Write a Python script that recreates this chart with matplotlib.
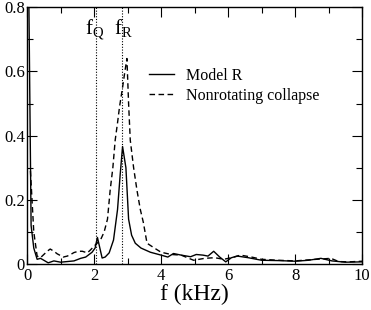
import matplotlib
matplotlib.use("Agg")
import matplotlib.pyplot as plt
from matplotlib.ticker import MultipleLocator

plt.rcParams["font.family"] = ["Liberation Serif", "DejaVu Serif"]
plt.rcParams["mathtext.fontset"] = "custom"
plt.rcParams["mathtext.rm"] = "Liberation Serif"

# Model R spectrum (kHz, amplitude)
f_model = [0.0, 0.05, 0.12, 0.2, 0.3, 0.4, 0.5, 0.63, 0.8, 1.0, 1.2, 1.4, 1.6,
           1.75, 1.94, 2.03, 2.1, 2.24, 2.33, 2.45, 2.58, 2.7, 2.78, 2.85, 2.95,
           3.03, 3.12, 3.23, 3.4, 3.68, 4.0, 4.2, 4.37, 4.6, 4.88, 5.05, 5.25,
           5.4, 5.57, 5.75, 5.93, 6.1, 6.28, 6.6, 7.0, 7.5, 8.0, 8.4, 8.77, 9.1,
           9.5, 10.0]
a_model = [0.9, 0.85, 0.12, 0.05, 0.015, 0.018, 0.012, 0.004, 0.01, 0.006,
           0.008, 0.01, 0.018, 0.022, 0.037, 0.05, 0.083, 0.019, 0.022, 0.035,
           0.075, 0.17, 0.28, 0.366, 0.3, 0.14, 0.09, 0.065, 0.05, 0.037, 0.028,
           0.022, 0.033, 0.028, 0.023, 0.03, 0.028, 0.025, 0.04, 0.022, 0.007,
           0.02, 0.025, 0.02, 0.012, 0.011, 0.009, 0.012, 0.018, 0.01, 0.006,
           0.007]

# Nonrotating collapse spectrum
f_nonrot = [0.1, 0.2, 0.3, 0.4, 0.5, 0.6, 0.69, 0.8, 0.9, 1.08, 1.2, 1.3, 1.4,
            1.53, 1.65, 1.8, 1.9, 2.04, 2.19, 2.3, 2.4, 2.48, 2.56, 2.63, 2.7,
            2.76, 2.85, 2.92, 2.98, 3.03, 3.08, 3.18, 3.28, 3.38, 3.47, 3.58,
            3.8, 4.0, 4.3, 4.6, 4.97, 5.3, 5.6, 5.87, 6.1, 6.37, 6.7, 7.0, 7.5,
            8.0, 8.5, 9.07, 9.3, 9.6, 10.0]
a_nonrot = [0.29, 0.1, 0.025, 0.02, 0.03, 0.04, 0.047, 0.04, 0.032, 0.022,
            0.025, 0.03, 0.036, 0.04, 0.04, 0.035, 0.045, 0.06, 0.075, 0.1,
            0.14, 0.23, 0.3, 0.386, 0.44, 0.49, 0.55, 0.6, 0.64, 0.5, 0.386,
            0.3, 0.23, 0.17, 0.13, 0.065, 0.05, 0.037, 0.03, 0.028, 0.012,
            0.018, 0.02, 0.015, 0.02, 0.028, 0.022, 0.015, 0.012, 0.01, 0.014,
            0.018, 0.008, 0.007, 0.009]

f_q = 2.07
f_r = 2.84

fig = plt.figure(figsize=(3.71, 3.10), dpi=100)
ax = fig.add_axes([0.073, 0.148, 0.903, 0.829])

ax.plot(f_model, a_model, color="black", lw=1.0, label="Model R")
ax.plot(f_nonrot, a_nonrot, color="black", lw=1.0, ls=(0, (4, 2.5)),
        label="Nonrotating collapse")
for fv in (f_q, f_r):
    ax.axvline(fv, color="black", lw=0.8, ls=(0, (1, 1.5)))

ax.text(f_q - 0.05, 0.715, r"f$_\mathrm{Q}$", fontsize=15, ha="center",
        va="baseline")
ax.text(f_r + 0.05, 0.715, r"f$_\mathrm{R}$", fontsize=15, ha="center",
        va="baseline")

ax.set_xlim(0, 10)
ax.set_ylim(0, 0.8)
ax.xaxis.set_major_locator(MultipleLocator(2))
ax.xaxis.set_minor_locator(MultipleLocator(1))
ax.yaxis.set_major_locator(MultipleLocator(0.2))
ax.yaxis.set_minor_locator(MultipleLocator(0.1))
ax.set_yticks([0, 0.2, 0.4, 0.6, 0.8], ["0", "0.2", "0.4", "0.6", "0.8"])
ax.tick_params(which="both", direction="in", top=True, right=True,
               labelsize=12, width=0.8)
ax.tick_params(axis="y", pad=1.5)
ax.tick_params(axis="x", pad=3)
ax.tick_params(which="major", length=7)
ax.tick_params(which="minor", length=4)
for sp in ax.spines.values():
    sp.set_linewidth(1.0)

ax.set_xlabel("f (kHz)", fontsize=17, labelpad=0)

ax.legend(loc="upper left", bbox_to_anchor=(0.365, 0.765), frameon=False,
          fontsize=11.5, handlelength=1.55, handletextpad=0.75, borderpad=0,
          labelspacing=0.25, borderaxespad=0)

fig.savefig("out.png", dpi=100)
